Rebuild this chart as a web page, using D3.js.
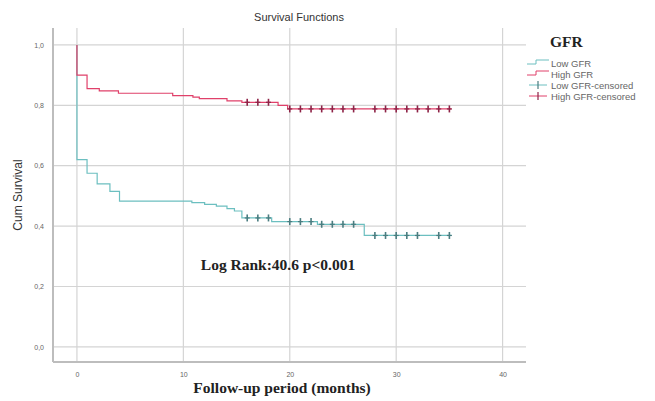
<!DOCTYPE html>
<html>
<head>
<meta charset="utf-8">
<script src="https://cdn.jsdelivr.net/npm/d3@7"></script>
<style>
  body { margin: 0; background: #fff; }
  svg { display: block; }
</style>
</head>
<body>
<div id="chart"></div>
<script>
// Kaplan-Meier step data
const lowTimes = [0, 0.95, 1.9, 3.1, 4.0, 10.8, 12.0, 13.1, 14.1, 14.8, 15.5, 18.3, 22.6, 27.0]
const lowSurv = [0.62, 0.575, 0.54, 0.515, 0.483, 0.478, 0.472, 0.466, 0.458, 0.45, 0.427, 0.415, 0.406, 0.369]
const lowCensored = [16, 17, 18, 20, 21, 22, 23, 24, 25, 26, 28, 29, 30, 31, 32, 34, 35]
const lowEnd = 35.2

const highTimes = [0, 0.95, 2.1, 3.9, 9.0, 10.9, 11.5, 14.1, 15.5, 18.9, 19.8]
const highSurv = [0.9, 0.855, 0.848, 0.84, 0.832, 0.827, 0.822, 0.815, 0.81, 0.8, 0.788]
const highCensored = [16, 17, 18, 20, 21, 22, 23, 24, 25, 26, 28, 29, 30, 31, 32, 33, 34, 35]
const highEnd = 35.2

const xTicks = [0, 10, 20, 30, 40]
const yTicks = [0, 0.2, 0.4, 0.6, 0.8, 1.0]
const legendLabels = ["Low GFR", "High GFR", "Low GFR-censored", "High GFR-censored"]

const width = 655
const height = 401

const svg = d3.select("#chart").append("svg").attr("width", width).attr("height", height)
svg.append("rect").attr("width", width).attr("height", height).attr("fill", "#fff")

const x = d3.scaleLinear().domain([-2.25, 42.2]).range([53, 526])
const y = d3.scaleLinear().domain([-0.05, 1.056]).range([362, 28])

// grid
svg.append("g")
  .selectAll("line")
  .data(yTicks)
  .enter()
  .append("line")
  .attr("x1", x.range()[0])
  .attr("x2", x.range()[1])
  .attr("y1", (d) => y(d))
  .attr("y2", (d) => y(d))
  .attr("stroke", "#d4d4d4")
  .attr("stroke-width", 1.2)

svg.append("g")
  .selectAll("line")
  .data(xTicks)
  .enter()
  .append("line")
  .attr("y1", y.range()[0])
  .attr("y2", y.range()[1])
  .attr("x1", (d) => x(d))
  .attr("x2", (d) => x(d))
  .attr("stroke", "#d4d4d4")
  .attr("stroke-width", 1.2)

// axes (labels only, SPSS style comma decimals)
const yAxis = svg.append("g")
  .attr("transform", `translate(${x.range()[0] - 6},0)`)
  .call(d3.axisLeft(y).tickValues(yTicks).tickSize(0).tickFormat((d) => d3.format(".1f")(d).replace(".", ",")))
yAxis.select(".domain").remove()
yAxis.selectAll("text").attr("font-family", "Arial, sans-serif").attr("font-size", 7).attr("fill", "#666")

const xAxis = svg.append("g")
  .attr("transform", `translate(0,${y.range()[0] + 7})`)
  .call(d3.axisBottom(x).tickValues(xTicks).tickSize(0))
xAxis.select(".domain").remove()
xAxis.selectAll("text").attr("font-family", "Arial, sans-serif").attr("font-size", 7).attr("fill", "#666")

// frame lines
svg.append("line")
  .attr("x1", x.range()[0]).attr("x2", x.range()[0])
  .attr("y1", y.range()[1]).attr("y2", y.range()[0])
  .attr("stroke", "#bdbdbd").attr("stroke-width", 2)
svg.append("line")
  .attr("x1", x.range()[0]).attr("x2", x.range()[1])
  .attr("y1", y.range()[0]).attr("y2", y.range()[0])
  .attr("stroke", "#bdbdbd").attr("stroke-width", 2)

// build step points starting at survival 1.0
function stepPoints(times, surv, end) {
  const pts = [[0, 1]]
  times.forEach((t, i) => {
    pts.push([t, i === 0 ? 1 : surv[i - 1]])
    pts.push([t, surv[i]])
  })
  pts.push([end, surv[surv.length - 1]])
  return pts
}

function survAt(times, surv, t) {
  let s = 1
  times.forEach((tt, i) => {
    if (tt <= t) s = surv[i]
  })
  return s
}

const line = d3.line().x((d) => x(d[0])).y((d) => y(d[1]))

const groups = [
  { times: lowTimes, surv: lowSurv, cens: lowCensored, end: lowEnd, color: "#6cbfc0", mark: "#4a7d80" },
  { times: highTimes, surv: highSurv, cens: highCensored, end: highEnd, color: "#e0406a", mark: "#8e2347" },
]

groups.forEach((g) => {
  svg.append("path")
    .attr("d", line(stepPoints(g.times, g.surv, g.end)))
    .attr("fill", "none")
    .attr("stroke", g.color)
    .attr("stroke-width", 1.2)

  const marks = svg.append("g")
    .selectAll("g")
    .data(g.cens)
    .enter()
    .append("g")
    .attr("transform", (d) => `translate(${x(d)},${y(survAt(g.times, g.surv, d))})`)
  marks.append("line").attr("y1", -3.5).attr("y2", 3.5).attr("stroke", g.mark).attr("stroke-width", 1.6)
  marks.append("line").attr("x1", -2.5).attr("x2", 2.5).attr("stroke", g.mark).attr("stroke-width", 1.2)
})

// titles
svg.append("text")
  .attr("x", 299).attr("y", 21)
  .attr("text-anchor", "middle")
  .attr("font-family", "Arial, sans-serif").attr("font-size", 11).attr("fill", "#333")
  .text("Survival Functions")

svg.append("text")
  .attr("transform", `translate(22,${(y.range()[0] + y.range()[1]) / 2}) rotate(-90)`)
  .attr("text-anchor", "middle")
  .attr("font-family", "Arial, sans-serif").attr("font-size", 12).attr("fill", "#333")
  .text("Cum Survival")

svg.append("text")
  .attr("x", 282).attr("y", 393)
  .attr("text-anchor", "middle")
  .attr("font-family", "'Liberation Serif', 'Times New Roman', serif").attr("font-weight", "bold")
  .attr("font-size", 15.5).attr("fill", "#222")
  .text("Follow-up period (months)")

svg.append("text")
  .attr("x", 278).attr("y", 270)
  .attr("text-anchor", "middle")
  .attr("font-family", "'Liberation Serif', 'Times New Roman', serif").attr("font-weight", "bold")
  .attr("font-size", 15.5).attr("fill", "#222")
  .text("Log Rank:40.6 p<0.001")

// legend
svg.append("text")
  .attr("x", 550).attr("y", 47)
  .attr("font-family", "'Liberation Serif', 'Times New Roman', serif").attr("font-weight", "bold")
  .attr("font-size", 15.5).attr("fill", "#222")
  .text("GFR")

const legend = svg.append("g")
  .selectAll("g")
  .data(legendLabels)
  .enter()
  .append("g")
  .attr("transform", (d, i) => `translate(527,${63 + i * 11})`)

legend.append("text")
  .attr("x", 24).attr("y", 3.5)
  .attr("font-family", "Arial, sans-serif").attr("font-size", 9.5).attr("fill", "#666")
  .text((d) => d)

legend.each(function (d, i) {
  const g = groups[i % 2]
  const sel = d3.select(this)
  if (i < 2) {
    sel.append("path")
      .attr("d", "M0,1H9V-3H22")
      .attr("fill", "none").attr("stroke", g.color).attr("stroke-width", 1)
  } else {
    sel.append("line").attr("x1", 2).attr("x2", 20).attr("stroke", g.color).attr("stroke-width", 1)
    sel.append("line").attr("x1", 11).attr("x2", 11).attr("y1", -4).attr("y2", 4).attr("stroke", g.mark).attr("stroke-width", 1.2)
  }
})
</script>
</body>
</html>
